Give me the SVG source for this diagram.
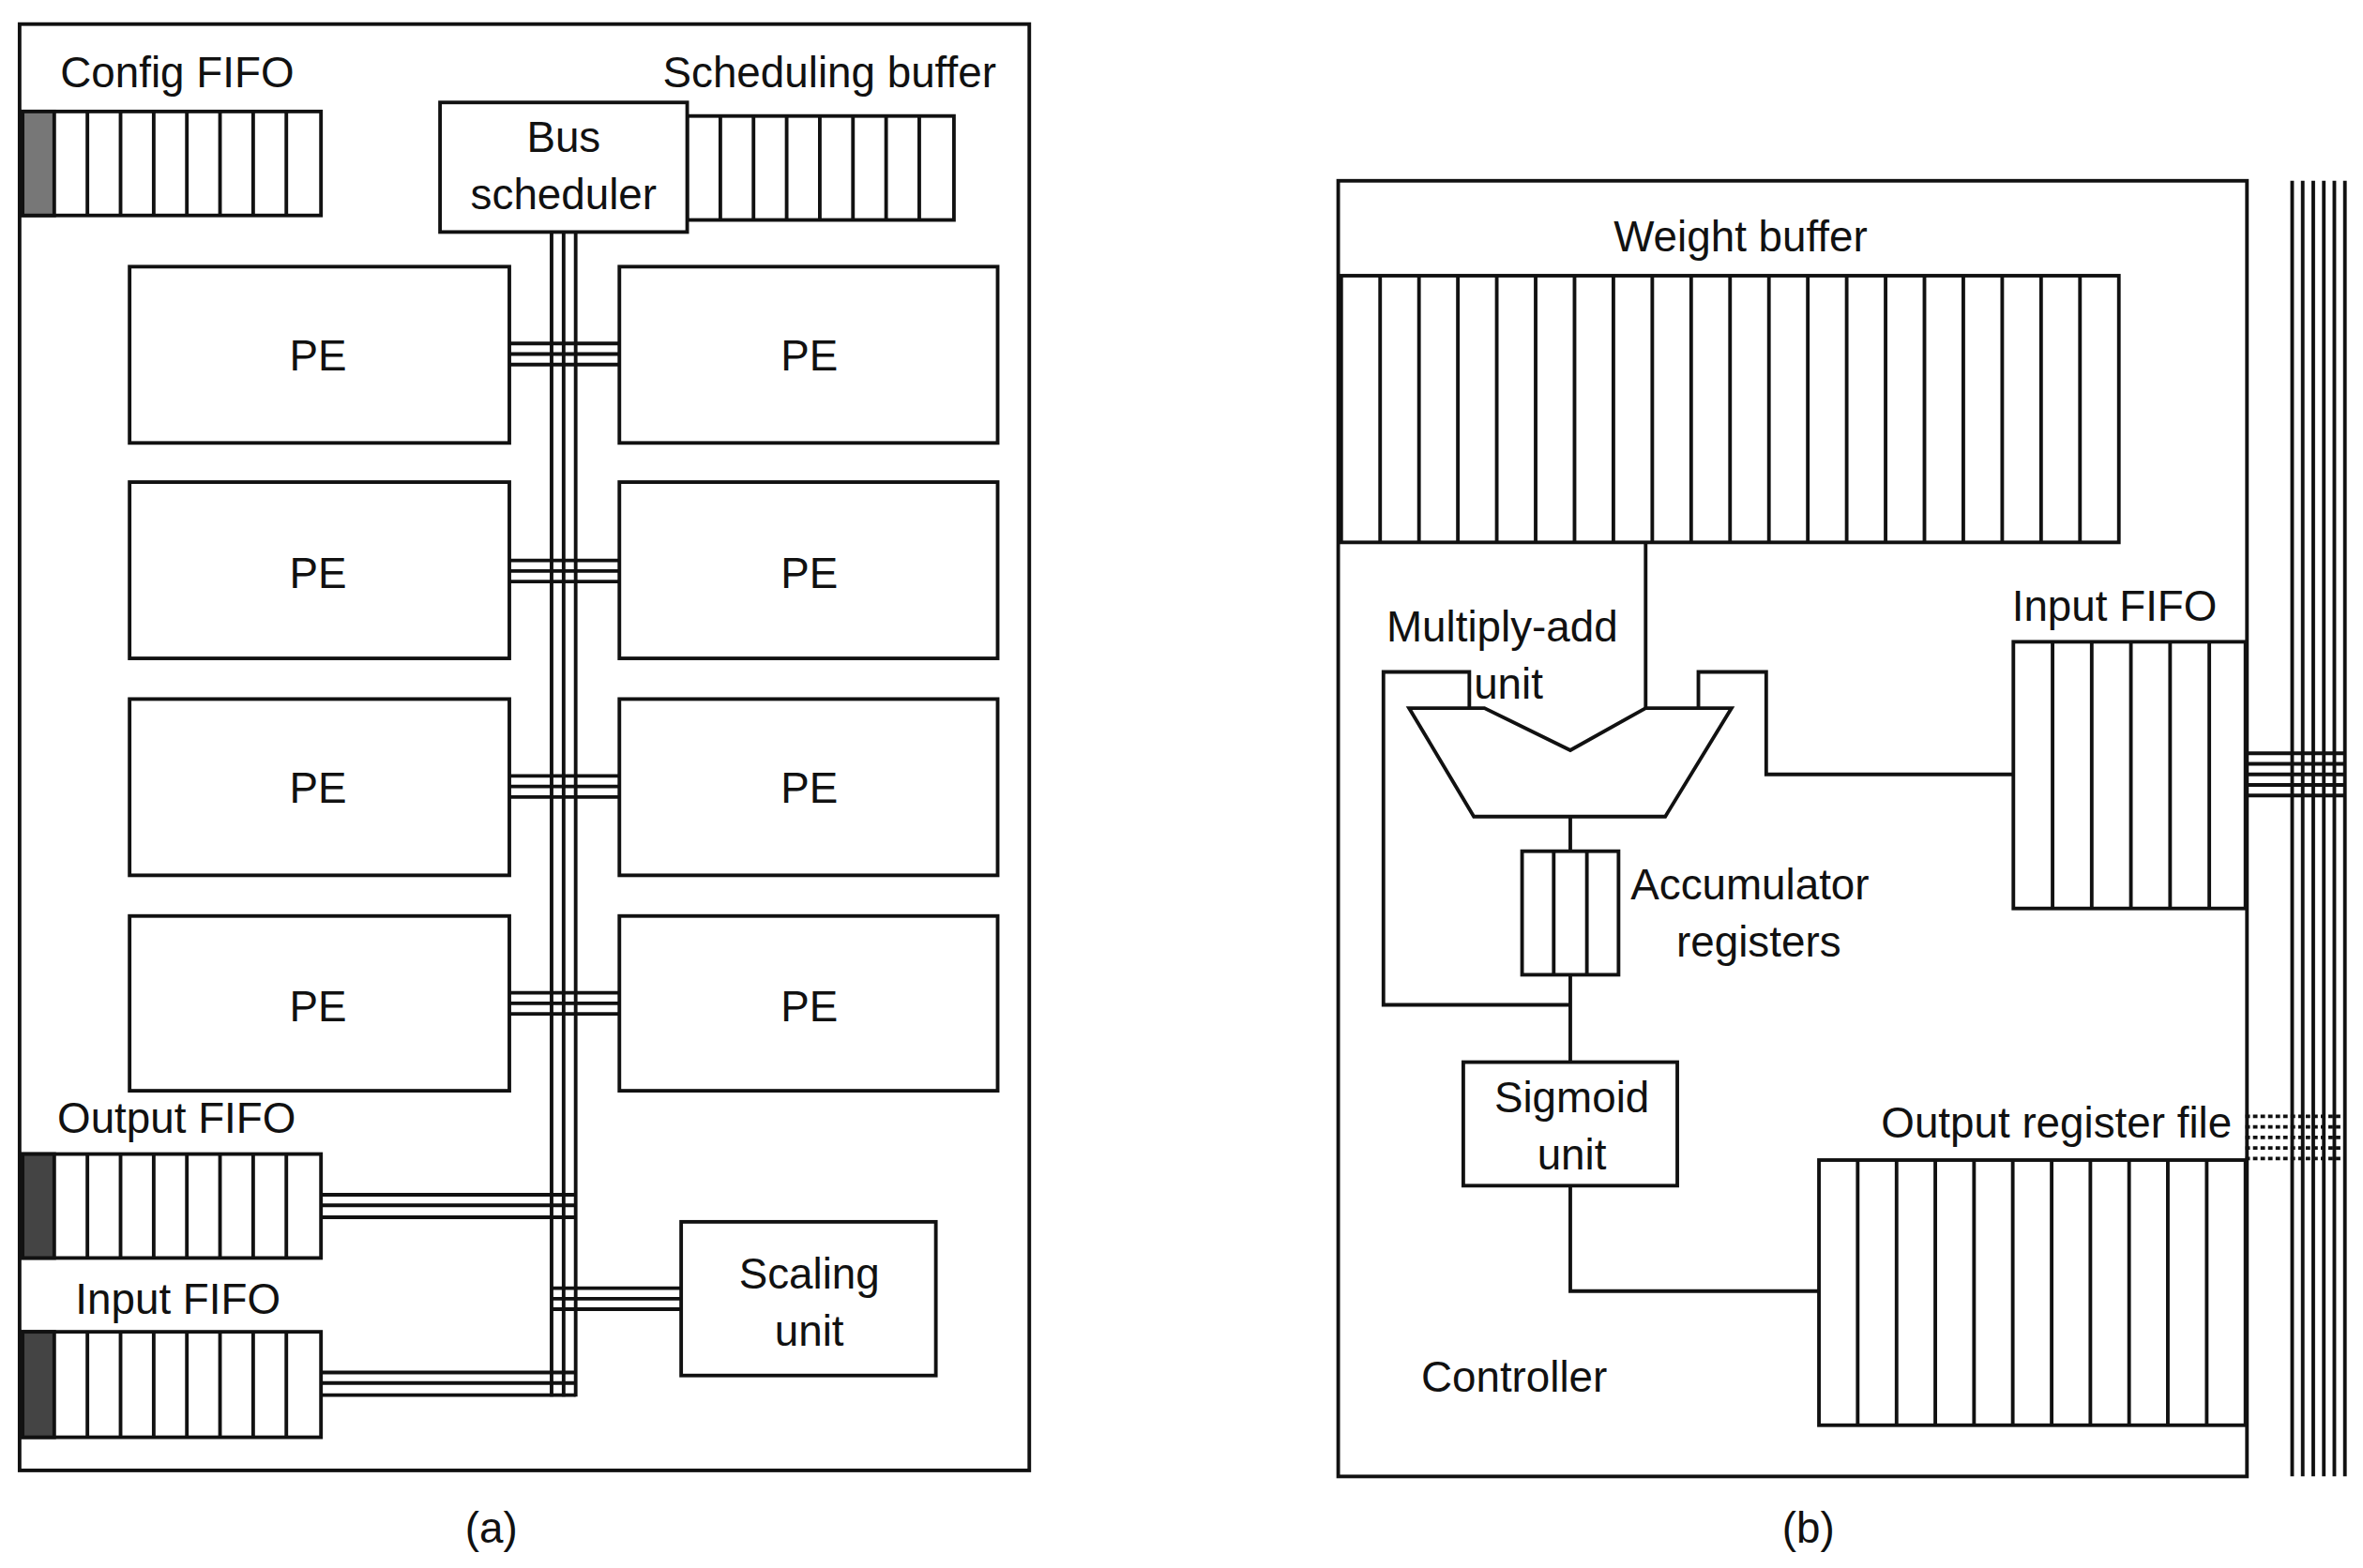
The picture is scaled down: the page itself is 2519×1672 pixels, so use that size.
<svg xmlns="http://www.w3.org/2000/svg" width="2519" height="1672" viewBox="0 0 2519 1672">
<style>
.b{fill:none;stroke:#111;stroke-width:2.4}
.w{fill:#fff;stroke:#111;stroke-width:2.4}
.t{font-family:"Liberation Sans",Arial,sans-serif;font-size:28.5px;fill:#111}
.m{text-anchor:middle}
.e{text-anchor:end}
</style>
<rect width="2519" height="1672" fill="#fff"/>
<g transform="scale(1.6065)">
<g id="connectors" class="b">
<path d="M366 154V927M374 154V927M382 154V927"/>
<path d="M338 228H411M338 235H411M338 242H411"/>
<path d="M338 372H411M338 379H411M338 386H411"/>
<path d="M338 515H411M338 522H411M338 529H411"/>
<path d="M338 659H411M338 666H411M338 673H411"/>
<path d="M213 793H382M213 800H382M213 808H382"/>
<path d="M213 911H382M213 918H382M213 926H382"/>
<path d="M366 855H452M366 862H452M366 869H452"/>
<path d="M1092 360V470"/>
<path d="M975 470V446H918V667H1042"/>
<path d="M1127 470V446H1172V514H1336"/>
<path d="M1042 542V565M1042 647V705M1042 787V857H1207"/>
<path d="M1521 120V980M1528 120V980M1535 120V980M1542 120V980M1549 120V980M1556 120V980"/>
<path d="M1490 500H1556M1490 507H1556M1490 514H1556M1490 521H1556M1490 528H1556"/>
<path d="M1490 741H1556M1490 748H1556M1490 755H1556M1490 762H1556M1490 769H1556" stroke-dasharray="3 2"/>
</g>
<g id="panel-a-frame"><rect class="b" x="13" y="16" width="670" height="960"/></g>
<g id="config-fifo">
<text class="t" x="40" y="58">Config FIFO</text>
<rect class="w" x="15" y="74" width="198" height="69"/>
<rect x="15" y="74" width="21" height="69" fill="#777" stroke="#111" stroke-width="2.4"/>
<path class="b" d="M58 74V143M80 74V143M102 74V143M124 74V143M146 74V143M168 74V143M190 74V143"/>
</g>
<g id="scheduling-buffer">
<text class="t e" x="661" y="58">Scheduling buffer</text>
<rect class="w" x="456" y="77" width="177" height="69"/>
<path class="b" d="M478 77V146M500 77V146M522 77V146M544 77V146M566 77V146M588 77V146M610 77V146"/>
</g>
<g id="bus-scheduler">
<rect class="w" x="292" y="68" width="164" height="86"/>
<text class="t m" x="374" y="101">Bus</text>
<text class="t m" x="374" y="139">scheduler</text>
</g>
<g id="pe1"><rect class="w" x="86" y="177" width="252" height="117"/><text class="t m" x="211" y="246">PE</text></g>
<g id="pe2"><rect class="w" x="411" y="177" width="251" height="117"/><text class="t m" x="537" y="246">PE</text></g>
<g id="pe3"><rect class="w" x="86" y="320" width="252" height="117"/><text class="t m" x="211" y="390">PE</text></g>
<g id="pe4"><rect class="w" x="411" y="320" width="251" height="117"/><text class="t m" x="537" y="390">PE</text></g>
<g id="pe5"><rect class="w" x="86" y="464" width="252" height="117"/><text class="t m" x="211" y="533">PE</text></g>
<g id="pe6"><rect class="w" x="411" y="464" width="251" height="117"/><text class="t m" x="537" y="533">PE</text></g>
<g id="pe7"><rect class="w" x="86" y="608" width="252" height="116"/><text class="t m" x="211" y="678">PE</text></g>
<g id="pe8"><rect class="w" x="411" y="608" width="251" height="116"/><text class="t m" x="537" y="678">PE</text></g>
<g id="output-fifo">
<text class="t" x="38" y="752">Output FIFO</text>
<rect class="w" x="15" y="766" width="198" height="69"/>
<rect x="15" y="766" width="21" height="69" fill="#444" stroke="#111" stroke-width="2.4"/>
<path class="b" d="M58 766V835M80 766V835M102 766V835M124 766V835M146 766V835M168 766V835M190 766V835"/>
</g>
<g id="input-fifo-a">
<text class="t" x="50" y="872">Input FIFO</text>
<rect class="w" x="15" y="884" width="198" height="70"/>
<rect x="15" y="884" width="21" height="70" fill="#444" stroke="#111" stroke-width="2.4"/>
<path class="b" d="M58 884V954M80 884V954M102 884V954M124 884V954M146 884V954M168 884V954M190 884V954"/>
</g>
<g id="scaling-unit">
<rect class="w" x="452" y="811" width="169" height="102"/>
<text class="t m" x="537" y="855">Scaling</text>
<text class="t m" x="537" y="893">unit</text>
</g>
<text class="t m" x="326" y="1024">(a)</text>
<g id="panel-b-frame"><rect class="b" x="888" y="120" width="603" height="860"/></g>
<g id="weight-buffer">
<text class="t m" x="1155" y="167">Weight buffer</text>
<rect class="w" x="890" y="183" width="516" height="177"/>
<path class="b" d="M915.8 183V360M941.6 183V360M967.4 183V360M993.2 183V360M1019 183V360M1044.8 183V360M1070.6 183V360M1096.4 183V360M1122.2 183V360M1148 183V360M1173.8 183V360M1199.6 183V360M1225.4 183V360M1251.2 183V360M1277 183V360M1302.8 183V360M1328.6 183V360M1354.4 183V360M1380.2 183V360"/>
</g>
<g id="multiply-add">
<path class="w" d="M935 470H985L1042 498L1092 470H1149L1105 542H978Z"/>
<text class="t" x="920" y="426">Multiply-add</text>
<text class="t" x="978" y="464">unit</text>
</g>
<g id="input-fifo-b">
<text class="t" x="1335" y="412">Input FIFO</text>
<rect class="w" x="1336" y="426" width="154" height="177"/>
<path class="b" d="M1362 426V603M1388 426V603M1414 426V603M1440 426V603M1466 426V603"/>
</g>
<g id="accumulator">
<rect class="w" x="1010" y="565" width="64" height="82"/>
<path class="b" d="M1031 565V647M1053 565V647"/>
<text class="t" x="1082" y="597">Accumulator</text>
<text class="t m" x="1167" y="635">registers</text>
</g>
<g id="sigmoid">
<rect class="w" x="971" y="705" width="142" height="82"/>
<text class="t m" x="1043" y="738">Sigmoid</text>
<text class="t m" x="1043" y="776">unit</text>
</g>
<g id="output-register-file">
<text class="t e" x="1481" y="755">Output register file</text>
<rect class="w" x="1207" y="770" width="283" height="176"/>
<path class="b" d="M1232.7 770V946M1258.5 770V946M1284.2 770V946M1309.9 770V946M1335.6 770V946M1361.4 770V946M1387.1 770V946M1412.8 770V946M1438.5 770V946M1464.3 770V946"/>
</g>
<g id="controller"><text class="t" x="943" y="924">Controller</text></g>
<text class="t m" x="1200" y="1024">(b)</text>
</g>
</svg>
